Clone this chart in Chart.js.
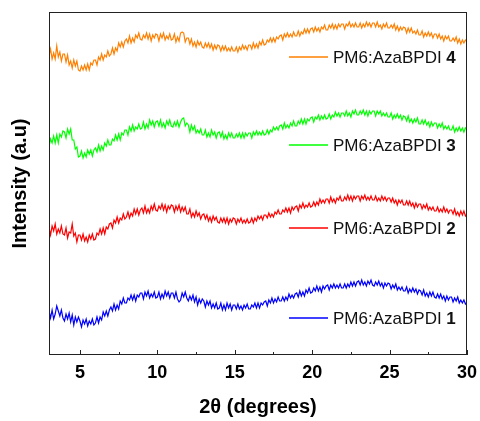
<!DOCTYPE html>
<html>
<head>
<meta charset="utf-8">
<script src="https://cdn.jsdelivr.net/npm/chart.js@4.4.1/dist/chart.umd.min.js"></script>
<style>
  html, body { margin: 0; padding: 0; background: #ffffff; }
  #wrap { width: 480px; height: 421px; }
</style>
</head>
<body>
<div id="wrap"><canvas id="xrd" width="480" height="421"></canvas></div>
<script>
// 2θ scan: 3.0° to 30.0° in 0.1° steps
const scanStart = 3.0;
const scanStep = 0.1;
const scanPoints = 271;
const twoTheta = Array.from({ length: scanPoints }, (_, i) => +(scanStart + i * scanStep).toFixed(1));

// Intensities (a.u., vertically offset per blend), one row per degree
const blend1 = [
  44, 37, 45, 36, 41, 49, 44, 39, 45, 37,
  34, 41, 36, 42, 33, 40, 30, 38, 33, 38,
  34, 28, 35, 31, 36, 29, 34, 31, 36, 30,
  32, 38, 32, 38, 35, 43, 39, 44, 39, 45,
  48, 44, 51, 45, 50, 46, 54, 51, 57, 52,
  52, 57, 55, 60, 55, 60, 54, 60, 58, 62,
  62, 56, 63, 59, 64, 57, 61, 58, 63, 57,
  58, 63, 56, 61, 57, 64, 59, 63, 57, 62,
  62, 57, 63, 56, 53, 55, 62, 58, 63, 57,
  54, 59, 55, 60, 53, 58, 50, 56, 52, 56,
  54, 48, 54, 50, 54, 47, 51, 47, 52, 46,
  47, 52, 45, 50, 45, 52, 47, 51, 45, 50,
  50, 46, 51, 46, 49, 45, 50, 47, 51, 46,
  46, 50, 48, 52, 47, 52, 47, 52, 50, 53,
  54, 49, 55, 52, 57, 52, 56, 53, 58, 54,
  54, 58, 54, 58, 55, 61, 57, 60, 57, 61,
  62, 58, 64, 59, 63, 59, 65, 62, 67, 62,
  63, 67, 64, 69, 64, 68, 63, 69, 66, 69,
  70, 65, 70, 67, 71, 67, 70, 67, 71, 67,
  67, 71, 67, 71, 68, 73, 69, 73, 69, 73,
  74, 70, 75, 70, 73, 69, 74, 71, 75, 70,
  69, 73, 70, 74, 69, 72, 67, 72, 69, 72,
  71, 66, 70, 67, 71, 65, 68, 65, 68, 64,
  64, 68, 62, 66, 63, 67, 63, 66, 61, 65,
  64, 60, 65, 59, 62, 58, 63, 59, 63, 58,
  57, 61, 57, 61, 56, 59, 54, 59, 55, 58,
  58, 53, 57, 54, 58, 52, 55, 52, 55, 51,
  53
];
const blend2 = [
  128, 120, 129, 124, 131, 121, 126, 122, 129, 121,
  120, 127, 117, 123, 122, 131, 119, 122, 113, 120,
  120, 115, 121, 114, 118, 113, 120, 116, 121, 115,
  116, 122, 120, 126, 121, 127, 121, 128, 126, 131,
  132, 127, 135, 132, 138, 132, 137, 135, 141, 136,
  138, 143, 137, 142, 139, 146, 141, 146, 140, 145,
  147, 142, 149, 142, 146, 142, 149, 145, 151, 145,
  144, 149, 146, 151, 145, 150, 143, 149, 146, 150,
  149, 143, 149, 145, 150, 143, 148, 144, 148, 141,
  141, 146, 138, 142, 138, 144, 139, 142, 136, 140,
  141, 136, 140, 134, 138, 133, 139, 135, 138, 133,
  132, 137, 133, 137, 132, 137, 131, 136, 133, 137,
  136, 131, 136, 133, 137, 132, 135, 132, 136, 132,
  133, 137, 132, 137, 134, 139, 136, 139, 135, 140,
  140, 137, 142, 138, 141, 138, 143, 141, 145, 141,
  141, 145, 143, 147, 143, 147, 142, 148, 145, 148,
  149, 144, 150, 147, 152, 147, 150, 148, 152, 148,
  149, 153, 149, 153, 150, 156, 152, 155, 152, 156,
  156, 152, 158, 153, 156, 152, 157, 155, 159, 154,
  154, 158, 155, 160, 155, 159, 154, 159, 156, 159,
  159, 154, 159, 156, 160, 155, 158, 155, 159, 155,
  155, 159, 154, 157, 154, 159, 155, 158, 154, 157,
  157, 153, 157, 152, 155, 150, 155, 152, 155, 150,
  150, 154, 150, 154, 149, 152, 147, 152, 148, 151,
  151, 146, 150, 147, 151, 145, 148, 145, 148, 144,
  144, 148, 143, 146, 143, 148, 143, 146, 142, 145,
  145, 141, 146, 140, 143, 139, 144, 140, 144, 139,
  141
];
const blend3 = [
  208, 216, 212, 219, 212, 220, 212, 221, 218, 224,
  223, 217, 226, 221, 226, 215, 215, 206, 208, 198,
  199, 204, 197, 202, 198, 205, 201, 205, 199, 205,
  207, 203, 210, 204, 209, 205, 212, 209, 215, 210,
  210, 216, 214, 220, 215, 221, 215, 222, 220, 225,
  225, 220, 228, 224, 230, 224, 228, 226, 231, 226,
  227, 233, 226, 231, 227, 235, 230, 234, 228, 233,
  234, 229, 235, 228, 232, 227, 234, 230, 235, 229,
  228, 233, 229, 234, 228, 233, 236, 237, 229, 232,
  230, 223, 230, 225, 229, 222, 225, 222, 226, 220,
  220, 225, 218, 222, 218, 225, 220, 223, 217, 222,
  223, 218, 223, 216, 220, 216, 222, 218, 222, 217,
  217, 221, 218, 222, 217, 222, 217, 222, 219, 222,
  222, 217, 223, 220, 224, 220, 223, 220, 224, 220,
  221, 225, 221, 225, 223, 228, 225, 228, 225, 229,
  230, 226, 232, 227, 230, 227, 232, 229, 234, 229,
  229, 234, 231, 236, 231, 236, 231, 236, 234, 237,
  238, 233, 238, 236, 240, 235, 239, 236, 240, 236,
  237, 241, 236, 240, 238, 243, 239, 242, 238, 242,
  242, 239, 244, 239, 242, 238, 244, 241, 245, 240,
  240, 244, 241, 245, 240, 244, 239, 244, 241, 244,
  244, 239, 244, 241, 244, 239, 242, 239, 242, 238,
  238, 242, 236, 240, 237, 241, 237, 240, 235, 239,
  238, 234, 239, 233, 236, 232, 236, 233, 237, 231,
  231, 235, 231, 235, 230, 233, 228, 233, 229, 232,
  232, 227, 231, 228, 232, 226, 229, 226, 229, 225,
  225, 229, 223, 227, 224, 228, 224, 227, 223, 227,
  225
];
const blend4 = [
  299, 306, 296, 302, 296, 309, 298, 303, 294, 301,
  301, 293, 300, 290, 294, 287, 295, 289, 294, 285,
  284, 289, 285, 290, 285, 291, 285, 292, 290, 295,
  295, 290, 298, 295, 301, 295, 300, 298, 304, 299,
  301, 307, 301, 307, 304, 312, 308, 313, 308, 314,
  316, 312, 319, 312, 317, 313, 320, 317, 322, 316,
  315, 320, 317, 322, 316, 321, 314, 320, 317, 321,
  320, 314, 321, 317, 322, 315, 319, 316, 321, 315,
  316, 321, 313, 318, 314, 322, 323, 322, 313, 317,
  317, 311, 316, 309, 313, 308, 314, 310, 313, 308,
  307, 312, 308, 312, 307, 311, 305, 310, 306, 310,
  309, 304, 309, 305, 309, 304, 307, 304, 308, 304,
  304, 308, 303, 308, 305, 310, 306, 309, 305, 310,
  310, 306, 312, 307, 311, 307, 313, 310, 315, 310,
  311, 315, 313, 317, 313, 317, 313, 318, 316, 319,
  320, 315, 321, 318, 322, 318, 321, 318, 323, 319,
  319, 324, 319, 323, 321, 326, 322, 326, 322, 326,
  327, 323, 328, 324, 327, 323, 328, 326, 330, 325,
  325, 330, 327, 331, 326, 330, 326, 331, 328, 331,
  331, 326, 331, 329, 333, 328, 331, 328, 332, 328,
  328, 332, 327, 331, 328, 333, 329, 332, 328, 332,
  332, 328, 333, 328, 330, 326, 331, 328, 332, 327,
  327, 330, 327, 331, 325, 329, 324, 328, 325, 328,
  327, 322, 327, 323, 327, 322, 324, 321, 325, 320,
  320, 324, 318, 322, 319, 323, 319, 322, 317, 321,
  321, 317, 321, 316, 319, 314, 319, 316, 319, 314,
  314, 317, 314, 318, 312, 316, 311, 315, 312, 315,
  313
];

const seriesNames = ['PM6:AzaBPDI ', 'PM6:AzaBPDI ', 'PM6:AzaBPDI ', 'PM6:AzaBPDI '];
const seriesIds = ['1', '2', '3', '4'];
const seriesColors = ['#0000ff', '#ff0000', '#00ff00', '#ff8000'];
const seriesValues = [blend1, blend2, blend3, blend4];

const xMajorTicks = [5, 10, 15, 20, 25, 30];
const xMinorTicks = [7.5, 12.5, 17.5, 22.5, 27.5];

const FONT = "'Liberation Sans', Arial, Helvetica, sans-serif";

// Frame, inward tick marks and the in-plot legend entries
const framePlugin = {
  id: 'frameAndLegend',
  afterDatasetsDraw(chart) {
    const { ctx, chartArea: a, scales: { x } } = chart;
    ctx.save();
    ctx.strokeStyle = '#222';
    ctx.lineWidth = 1;
    ctx.strokeRect(a.left + 0.5, a.top + 0.5, a.right - a.left - 1, a.bottom - a.top - 1);
    ctx.beginPath();
    xMajorTicks.forEach(v => {
      const px = Math.round(x.getPixelForValue(v)) + 0.5;
      ctx.moveTo(px, a.bottom);
      ctx.lineTo(px, a.bottom - 5);
    });
    xMinorTicks.forEach(v => {
      const px = Math.round(x.getPixelForValue(v)) + 0.5;
      ctx.moveTo(px, a.bottom);
      ctx.lineTo(px, a.bottom - 3);
    });
    ctx.stroke();

    const rows = [318, 228, 145, 57];
    ctx.textBaseline = 'middle';
    chart.data.datasets.forEach((ds, i) => {
      const y = rows[i];
      ctx.strokeStyle = ds.borderColor;
      ctx.lineWidth = 1.4;
      ctx.beginPath();
      ctx.moveTo(289, y);
      ctx.lineTo(328, y);
      ctx.stroke();
      ctx.fillStyle = '#111';
      ctx.font = `17px ${FONT}`;
      ctx.textAlign = 'left';
      ctx.fillText(seriesNames[i], 333, y + 1);
      const w = ctx.measureText(seriesNames[i]).width;
      ctx.font = `bold 17px ${FONT}`;
      ctx.fillText(seriesIds[i], 333 + w, y + 1);
    });
    ctx.restore();
  }
};

const datasets = seriesValues.map((vals, i) => ({
  label: seriesNames[i] + seriesIds[i],
  data: twoTheta.map((t, j) => ({ x: t, y: vals[j] })),
  borderColor: seriesColors[i],
  backgroundColor: seriesColors[i],
  borderWidth: 1.2,
  pointRadius: 0,
  tension: 0,
  fill: false
}));

new Chart(document.getElementById('xrd'), {
  type: 'line',
  data: { datasets },
  plugins: [framePlugin],
  options: {
    responsive: false,
    animation: false,
    devicePixelRatio: 1,
    layout: { padding: { top: 12, right: 13, left: 0, bottom: 0 } },
    plugins: { legend: { display: false }, tooltip: { enabled: false } },
    scales: {
      x: {
        type: 'linear',
        min: 3,
        max: 30,
        afterBuildTicks: s => { s.ticks = xMajorTicks.map(v => ({ value: v })); },
        afterFit: s => { s.height = 66; s.paddingLeft = 0; s.paddingRight = 0; },
        grid: { display: false, drawTicks: false },
        border: { display: false },
        ticks: {
          padding: 7,
          color: '#000',
          font: { family: FONT, size: 18, weight: 'bold' },
          maxRotation: 0,
          autoSkip: false
        },
        title: {
          display: true,
          text: '2θ (degrees)',
          color: '#000',
          font: { family: FONT, size: 20, weight: 'bold' },
          padding: { top: 0, bottom: 2 }
        }
      },
      y: {
        min: 0,
        max: 343,
        afterFit: s => { s.width = 49; s.paddingTop = 0; s.paddingBottom = 0; },
        grid: { display: false, drawTicks: false },
        border: { display: false },
        ticks: { display: false },
        title: {
          display: true,
          text: 'Intensity (a.u)',
          color: '#000',
          font: { family: FONT, size: 20, weight: 'bold' },
          padding: { top: 8, bottom: 0 }
        }
      }
    }
  }
});
</script>
</body>
</html>
